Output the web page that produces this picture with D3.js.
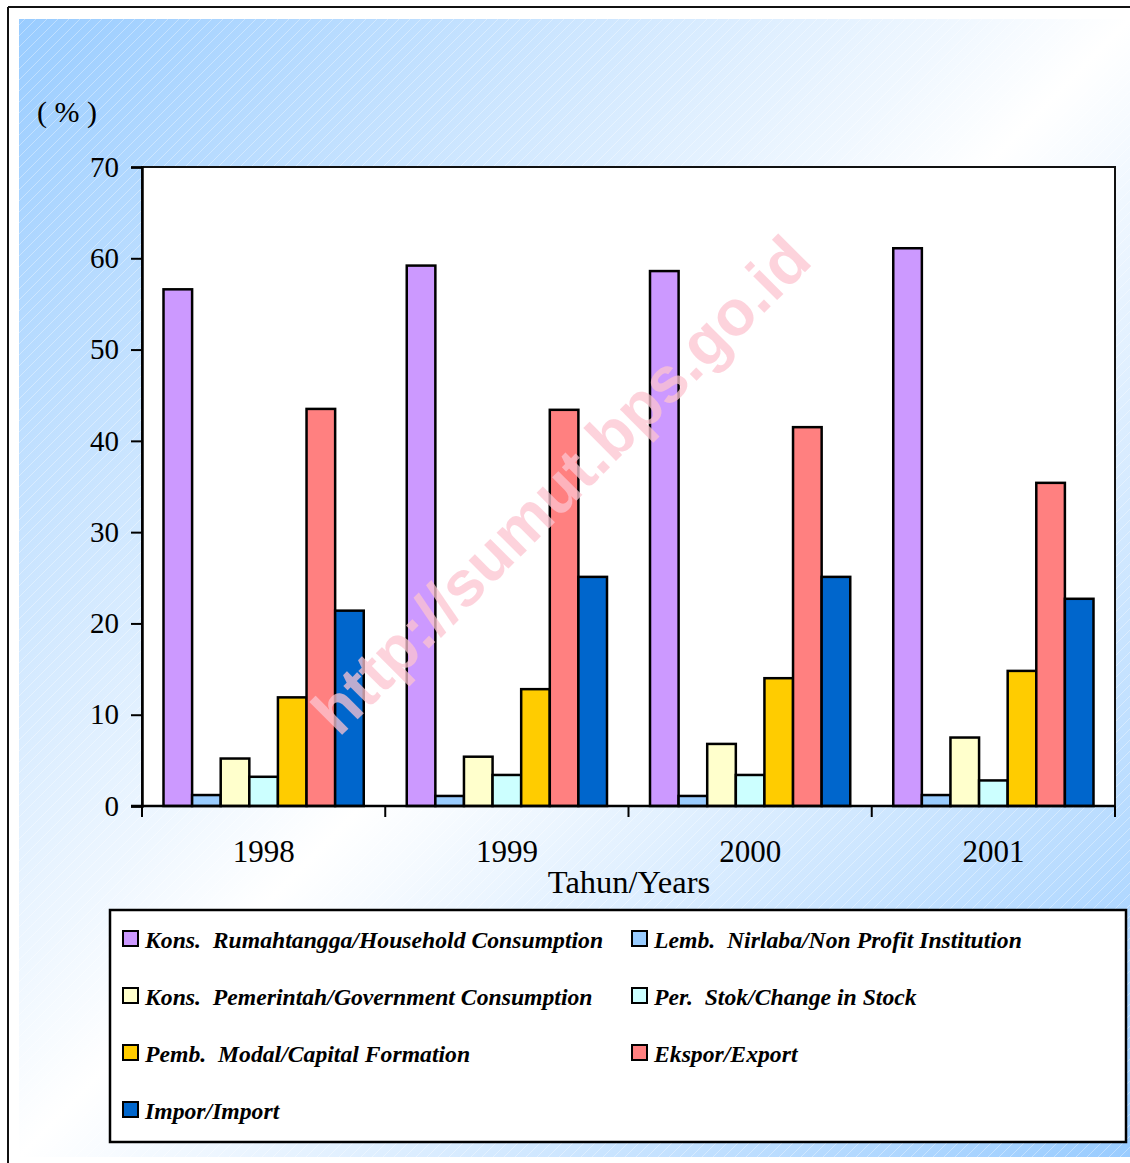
<!DOCTYPE html>
<html>
<head>
<meta charset="utf-8">
<script src="https://cdn.jsdelivr.net/npm/d3@7"></script>
<style>
  html, body { margin: 0; padding: 0; background: #fff; }
  svg { display: block; }
  text { white-space: pre; }
</style>
</head>
<body>
<svg id="chart" width="1130" height="1163"></svg>
<script>
// Distribution of GDP by expenditure component (%), 1998-2001
const years = ["1998", "1999", "2000", "2001"];
const seriesLabels = [
  "Kons.  Rumahtangga/Household Consumption",
  "Lemb.  Nirlaba/Non Profit Institution",
  "Kons.  Pemerintah/Government Consumption",
  "Per.  Stok/Change in Stock",
  "Pemb.  Modal/Capital Formation",
  "Ekspor/Export",
  "Impor/Import"
];
const seriesColors = ["#CC99FF", "#99CCFF", "#FFFFCC", "#CCFFFF", "#FFCC00", "#FF8080", "#0066CC"];

const household  = [56.6, 59.2, 58.6, 61.1];
const nonProfit  = [1.2, 1.1, 1.1, 1.2];
const government = [5.2, 5.4, 6.8, 7.5];
const stock      = [3.2, 3.4, 3.4, 2.8];
const capital    = [11.9, 12.8, 14.0, 14.8];
const exports    = [43.5, 43.4, 41.5, 35.4];
const imports    = [21.4, 25.1, 25.1, 22.7];

const yTicks = [0, 10, 20, 30, 40, 50, 60, 70];

const seriesValues = [household, nonProfit, government, stock, capital, exports, imports];
const series = seriesLabels.map((label, i) => ({ label, color: seriesColors[i], values: seriesValues[i] }));

const svg = d3.select("#chart");
const defs = svg.append("defs");

// Diagonal blue-white-blue backdrop
const grad = defs.append("linearGradient")
  .attr("id", "bgGrad").attr("x1", 0).attr("y1", 0).attr("x2", 1).attr("y2", 1);
grad.append("stop").attr("offset", "0%").attr("stop-color", "#99CCFF");
grad.append("stop").attr("offset", "50%").attr("stop-color", "#FFFFFF");
grad.append("stop").attr("offset", "100%").attr("stop-color", "#99CCFF");

// Fine diagonal hatching over the backdrop
const pat = defs.append("pattern")
  .attr("id", "hatch").attr("patternUnits", "userSpaceOnUse")
  .attr("width", 11).attr("height", 11);
pat.append("path").attr("d", "M0,11 L11,0 M-2,2 L2,-2 M9,13 L13,9")
  .attr("stroke", "#ffffff").attr("stroke-opacity", 0.35).attr("stroke-width", 1);

// Outer frame
svg.append("line").attr("x1", 8).attr("y1", 7).attr("x2", 1130).attr("y2", 7)
  .attr("stroke", "#111").attr("stroke-width", 2);
svg.append("line").attr("x1", 8).attr("y1", 7).attr("x2", 8).attr("y2", 1163)
  .attr("stroke", "#111").attr("stroke-width", 2);

// Backdrop
svg.append("rect").attr("x", 19).attr("y", 19).attr("width", 1111).attr("height", 1138)
  .attr("fill", "url(#bgGrad)");
svg.append("rect").attr("x", 19).attr("y", 19).attr("width", 1111).attr("height", 1138)
  .attr("fill", "url(#hatch)");

// Plot area
const plot = { left: 142, right: 1115, top: 167, bottom: 806 };

svg.append("rect")
  .attr("x", plot.left).attr("y", plot.top)
  .attr("width", plot.right - plot.left).attr("height", plot.bottom - plot.top)
  .attr("fill", "#fff").attr("stroke", "#111").attr("stroke-width", 2);

const x0 = d3.scaleBand().domain(years).range([plot.left, plot.right]).padding(0);
const groupPad = 21.5;
const x1 = d3.scaleBand().domain(d3.range(series.length))
  .range([groupPad, x0.bandwidth() - groupPad]).padding(0);
const y = d3.scaleLinear().domain([0, 70]).range([plot.bottom, plot.top]);

// Bars
const groups = svg.append("g").selectAll("g").data(years).join("g")
  .attr("transform", d => `translate(${x0(d)},0)`);

groups.selectAll("rect")
  .data((yr, yi) => series.map((s, si) => ({ si, v: s.values[yi], color: s.color })))
  .join("rect")
  .attr("x", d => x1(d.si))
  .attr("y", d => y(d.v))
  .attr("width", x1.bandwidth())
  .attr("height", d => y(0) - y(d.v))
  .attr("fill", d => d.color)
  .attr("stroke", "#000")
  .attr("stroke-width", 2.5);

// Y axis
const yAxis = svg.append("g")
  .attr("transform", `translate(${plot.left},0)`)
  .call(d3.axisLeft(y).tickValues(yTicks).tickSize(11).tickPadding(12));
yAxis.select(".domain").attr("stroke", "#000").attr("stroke-width", 2.5);
yAxis.selectAll(".tick line").attr("stroke", "#000").attr("stroke-width", 2);
yAxis.selectAll(".tick text")
  .attr("font-family", "'Liberation Serif', 'Times New Roman', serif")
  .attr("font-size", 29).attr("fill", "#000");

// X axis: ticks at category boundaries
const xAxisG = svg.append("g").attr("transform", `translate(0,${plot.bottom})`);
xAxisG.append("line")
  .attr("x1", plot.left - 11).attr("x2", plot.right)
  .attr("stroke", "#000").attr("stroke-width", 2.5);
const boundaries = years.map(d => x0(d)).concat([x0(years[years.length - 1]) + x0.bandwidth()]);
xAxisG.selectAll("line.tk").data(boundaries).join("line").attr("class", "tk")
  .attr("x1", d => d).attr("x2", d => d).attr("y1", 0).attr("y2", 11)
  .attr("stroke", "#000").attr("stroke-width", 2);
xAxisG.selectAll("text").data(years).join("text")
  .attr("x", d => x0(d) + x0.bandwidth() / 2)
  .attr("y", 56)
  .attr("text-anchor", "middle")
  .attr("font-family", "'Liberation Serif', 'Times New Roman', serif")
  .attr("font-size", 31)
  .text(d => d);

// Axis titles
svg.append("text")
  .attr("x", 629).attr("y", 893)
  .attr("text-anchor", "middle")
  .attr("font-family", "'Liberation Serif', 'Times New Roman', serif")
  .attr("font-size", 32.5)
  .text("Tahun/Years");

svg.append("text")
  .attr("x", 37).attr("y", 122)
  .attr("font-family", "'Liberation Serif', 'Times New Roman', serif")
  .attr("font-size", 30)
  .text("( % )");

// Watermark
svg.append("text")
  .attr("transform", "translate(561,485) rotate(-45)")
  .attr("text-anchor", "middle")
  .attr("dominant-baseline", "central")
  .attr("font-family", "'Liberation Sans', Arial, sans-serif")
  .attr("font-weight", "bold")
  .attr("font-size", 64)
  .attr("fill", "rgba(252,196,208,0.75)")
  .text("http://sumut.bps.go.id");

// Legend
svg.append("rect")
  .attr("x", 110).attr("y", 910).attr("width", 1016).attr("height", 232)
  .attr("fill", "#fff").attr("stroke", "#000").attr("stroke-width", 2.5);

const legendCols = [123, 632];
const legendRow0 = 931, legendRowStep = 57;
const items = svg.append("g").selectAll("g").data(series).join("g")
  .attr("transform", (d, i) => `translate(${legendCols[i % 2]},${legendRow0 + Math.floor(i / 2) * legendRowStep})`);
items.append("rect")
  .attr("width", 15).attr("height", 15)
  .attr("fill", d => d.color).attr("stroke", "#000").attr("stroke-width", 2);
items.append("text")
  .attr("x", 22).attr("y", 17)
  .attr("font-family", "'Liberation Serif', 'Times New Roman', serif")
  .attr("font-weight", "bold").attr("font-style", "italic")
  .attr("font-size", 23.7)
  .text(d => d.label);
</script>
</body>
</html>
